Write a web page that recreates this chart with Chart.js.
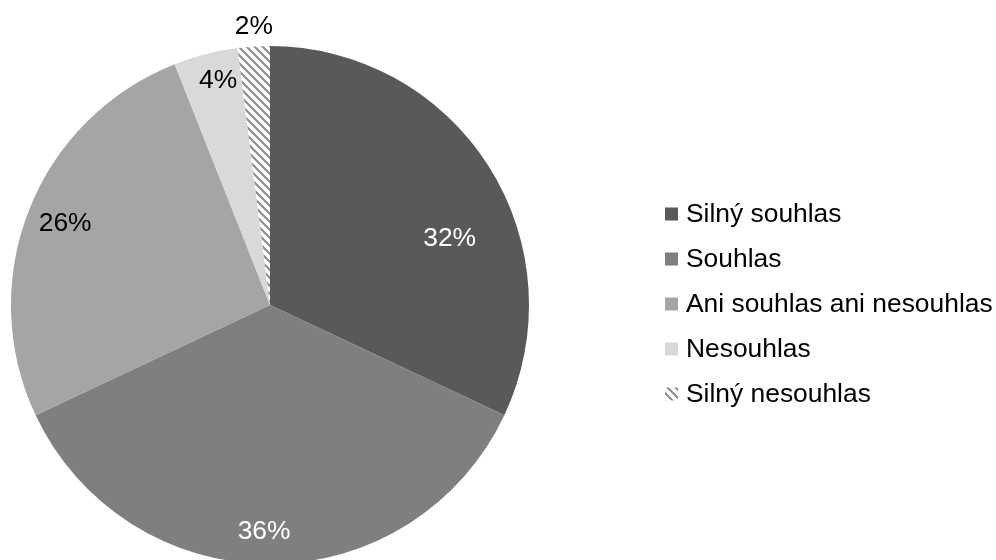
<!DOCTYPE html>
<html>
<head>
<meta charset="utf-8">
<script src="https://cdn.jsdelivr.net/npm/chart.js@4"></script>
<style>
  html, body { margin: 0; padding: 0; background: #fff; overflow: hidden; }
  #wrap { position: relative; width: 996px; height: 610px; }
</style>
</head>
<body>
<div id="wrap"><canvas id="pie"></canvas></div>
<script>
const categories = ["Silný souhlas", "Souhlas", "Ani souhlas ani nesouhlas", "Nesouhlas", "Silný nesouhlas"];
const shares = [32, 36, 26, 4, 2];
const percentLabels = ["32%", "36%", "26%", "4%", "2%"];

const FONT = '26.4px "Liberation Sans", Arial, sans-serif';

// diagonal stripes for the last slice
function stripes() {
  const c = document.createElement("canvas");
  c.width = 8; c.height = 8;
  const g = c.getContext("2d");
  g.fillStyle = "#fff";
  g.fillRect(0, 0, 8, 8);
  g.strokeStyle = "#8a8a8a";
  g.lineWidth = 2;
  g.beginPath();
  g.moveTo(-2, -2); g.lineTo(10, 10);
  g.moveTo(-10, -2); g.lineTo(2, 10);
  g.moveTo(6, -2); g.lineTo(18, 10);
  g.stroke();
  return g.createPattern(c, "repeat");
}

const hatch = stripes();
const fills = ["#595959", "#7f7f7f", "#a5a5a5", "#d9d9d9", hatch];
const labelColors = ["#fff", "#fff", "#000", "#000", "#000"];
// label distance from centre (fraction of radius) and angular nudge in degrees
const labelPlace = [[0.74, 12], [0.873, 1.5], [0.853, 0.4], [0.892, 1.4], [1.081, 0.3]];

const pctLabels = {
  id: "pctLabels",
  afterDatasetsDraw(chart) {
    const ctx = chart.ctx;
    const arcs = chart.getDatasetMeta(0).data;
    ctx.save();
    ctx.font = FONT;
    ctx.textAlign = "center";
    ctx.textBaseline = "middle";
    arcs.forEach((arc, i) => {
      const p = arc.getProps(["x", "y", "startAngle", "endAngle", "outerRadius"], true);
      const a = (p.startAngle + p.endAngle) / 2 + labelPlace[i][1] * Math.PI / 180;
      const r = p.outerRadius * labelPlace[i][0];
      ctx.fillStyle = labelColors[i];
      ctx.fillText(percentLabels[i], p.x + r * Math.cos(a), p.y + r * Math.sin(a) + 1);
    });
    ctx.restore();
  }
};

const sideLegend = {
  id: "sideLegend",
  afterDraw(chart) {
    const ctx = chart.ctx;
    const x = 665, y0 = 214, step = 45, box = 13;
    ctx.save();
    ctx.font = FONT;
    ctx.textBaseline = "middle";
    categories.forEach((name, i) => {
      const y = y0 + i * step;
      ctx.fillStyle = fills[i];
      ctx.fillRect(x, y - box / 2, box, box);
      ctx.fillStyle = "#000";
      ctx.fillText(name, x + 21, y + 1);
    });
    ctx.restore();
  }
};

new Chart(document.getElementById("pie"), {
  type: "pie",
  data: {
    labels: categories,
    datasets: [{
      data: shares,
      backgroundColor: fills,
      borderWidth: 0,
      hoverOffset: 0
    }]
  },
  options: {
    responsive: true,
    maintainAspectRatio: false,
    animation: false,
    radius: 259,
    layout: { padding: { left: 0, top: 0, bottom: 0, right: 456 } },
    plugins: {
      legend: { display: false },
      tooltip: { enabled: false }
    }
  },
  plugins: [pctLabels, sideLegend]
});
</script>
</body>
</html>
